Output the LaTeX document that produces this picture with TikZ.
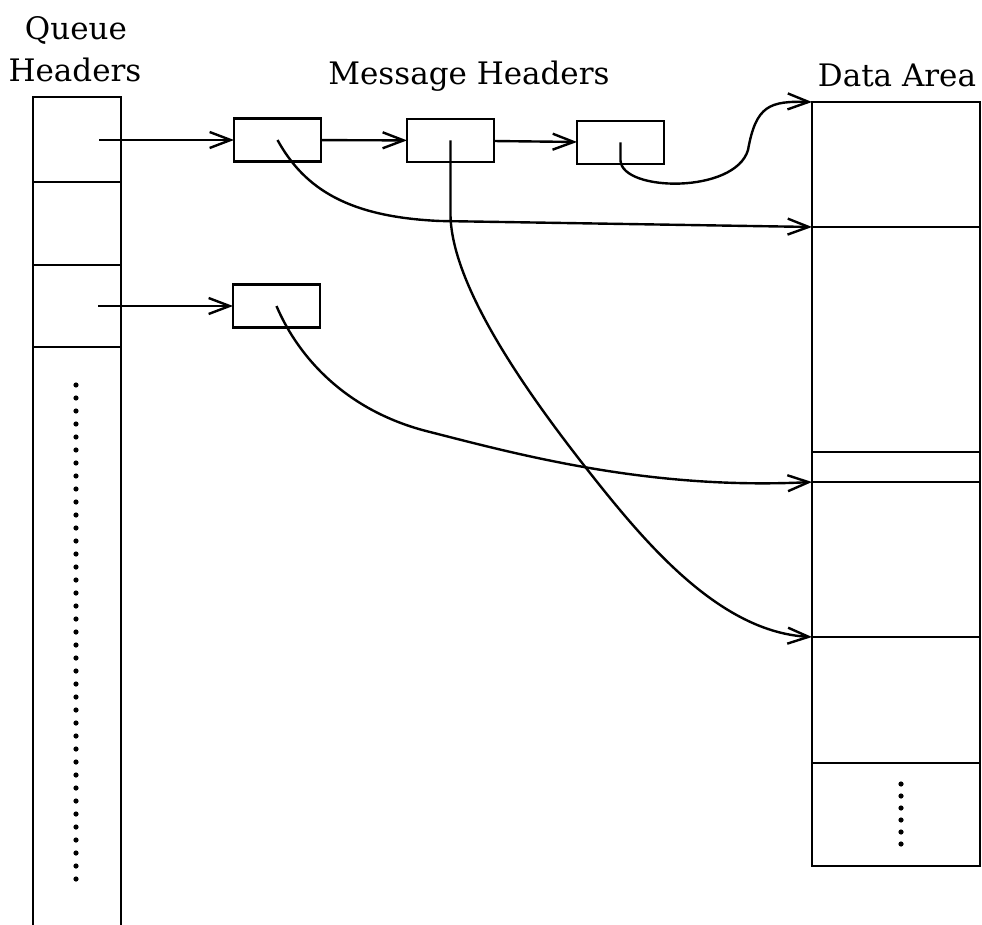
\documentclass[tikz,border=0pt]{standalone}
\usepackage{fontspec}
\setmainfont{DejaVu Serif}
\usetikzlibrary{arrows.meta}

\tikzset{
  cella/.style={draw, rectangle, inner sep=0pt, outer sep=0pt, minimum width=88pt},
  msg/.style={draw, rectangle, inner sep=0pt, outer sep=0pt, minimum width=87pt, minimum height=43pt},
  area/.style={draw, rectangle, inner sep=0pt, outer sep=0pt, minimum width=168pt},
  titolo/.style={anchor=base, font=\fontsize{31}{36}\selectfont},
  freccia/.style={-{Straight Barb[length=21pt,width=16pt]}},
}

\begin{document}
\begin{tikzpicture}[x=1pt, y=-1pt, line width=2.4pt]
    \useasboundingbox (0,0) rectangle (982,925);

    % titoli
    \node[titolo] (tq) at (76,40) {Queue};
    \node[titolo] (th) at (75,82) {Headers};
    \node[titolo] (tm) at (469,85) {Message Headers};
    \node[titolo] (td) at (897,87) {Data Area};

    % colonna delle code
    \node[cella, minimum height=85pt] (q1) at (77,139.5) {};
    \node[cella, minimum height=83pt] (q2) at (77,223.5) {};
    \node[cella, minimum height=82pt] (q3) at (77,306) {};
    \draw (q3.south west) -- ++(0,580);
    \draw (q3.south east) -- ++(0,580);
    \coordinate (p1) at (99,140);
    \coordinate (p3) at (98,306);
    \foreach \y in {385,398,...,886}
        \fill (76,\y) circle (2.6);

    % intestazioni dei messaggi
    \node[msg] (m1) at (277.5,140) {};
    \node[msg] (m2) at (450.5,140.5) {};
    \node[msg] (m3) at (620.5,142.5) {};
    \node[msg] (m4) at (276.5,306) {};

    % area dati
    \node[area, minimum height=125pt] (d1) at (896,164.5) {};
    \node[area, minimum height=225pt] (d2) at (896,339.5) {};
    \node[area, minimum height=30pt] (d3) at (896,467) {};
    \node[area, minimum height=155pt] (d4) at (896,559.5) {};
    \node[area, minimum height=126pt] (d5) at (896,700) {};
    \node[area, minimum height=103pt] (d6) at (896,814.5) {};
    \foreach \y in {784,796,...,845}
        \fill (901,\y) circle (2.6);

    % frecce tra le intestazioni
    \draw[freccia] (p1) -- (m1);
    \draw[freccia] (p3) -- (m4);
    \draw[freccia] (m1) -- (m2);
    \draw[freccia] (m2) -- (m3);

    % puntatori ai dati
    \draw[freccia] (m1.center) .. controls (305,190) and (350,217) .. (440,221) -- (d2.north west);
    \draw[freccia] (m2.center) -- ++(0,75) .. controls (452,290) and (534,402) .. (590,473)
        .. controls (646,544) and (720,632) .. (d5.north west);
    \draw[freccia] (m3.center) -- ++(0,18) .. controls (622,192) and (735,194) .. (748,150)
        .. controls (756,105) and (770,101) .. (d1.north west);
    \draw[freccia] (m4.center) .. controls (295,350) and (340,410) .. (430,432)
        .. controls (520,455) and (650,490) .. (d4.north west);

\end{tikzpicture}
\end{document}
